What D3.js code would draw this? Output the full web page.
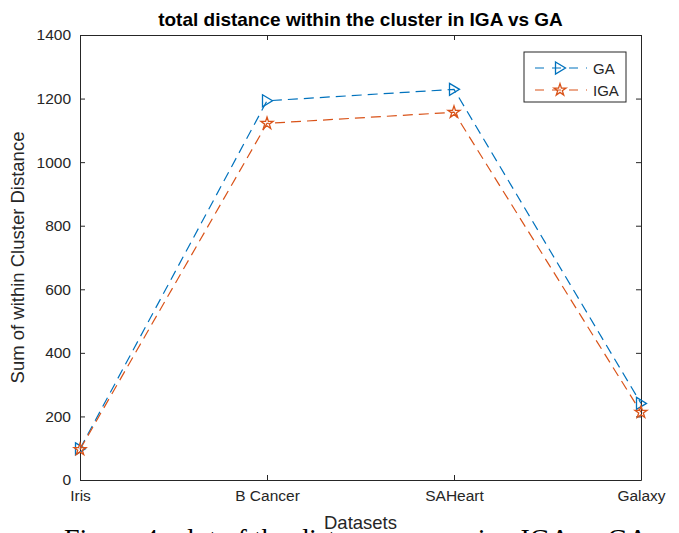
<!DOCTYPE html>
<html>
<head>
<meta charset="utf-8">
<script src="https://cdn.jsdelivr.net/npm/d3@7"></script>
<style>
body { margin: 0; background: #fff; }
svg { display: block; }
</style>
</head>
<body>
<div id="chart"></div>
<script>
const datasets = ["Iris", "B Cancer", "SAHeart", "Galaxy"];
const gaValues = [98, 1193, 1229, 241];
const igaValues = [96, 1122, 1157, 213];
const yTicks = [0, 200, 400, 600, 800, 1000, 1200, 1400];

var w = 679,
    h = 533,
    plotLeft = 80, plotRight = 641,
    plotTop = 35, plotBottom = 480;

var svg = d3.select("#chart").append("svg")
    .attr("width", w)
    .attr("height", h);

var x = d3.scalePoint().domain(datasets).range([plotLeft, plotRight]).padding(0);
var y = d3.scaleLinear().domain([0, 1400]).range([plotBottom, plotTop]);

var font = "Liberation Sans, Arial, sans-serif";
var axisColor = "#262626";

// figure caption, cut off by the page edge
svg.append("text").attr("x", 64).attr("y", 548)
    .attr("fill", "#000")
    .style("font-family", "Liberation Serif, Times New Roman, serif").style("font-size", "28px")
    .text("Figure 4: plot of the distance comparing IGA vs GA");

// axes with inward ticks (MATLAB box style)
function styleAxis(g) {
    g.select(".domain").attr("stroke", axisColor).attr("stroke-width", 1);
    g.selectAll(".tick line").attr("stroke", axisColor);
    g.selectAll(".tick text").attr("fill", axisColor).style("font-family", font).style("font-size", "15.5px");
}

svg.append("g").attr("transform", "translate(0," + plotBottom + ")")
    .call(d3.axisBottom(x).tickSizeInner(-5).tickSizeOuter(0).tickPadding(10))
    .call(styleAxis);
svg.append("g").attr("transform", "translate(0," + plotTop + ")")
    .call(d3.axisTop(x).tickSizeInner(-5).tickSizeOuter(0).tickFormat(""))
    .call(styleAxis);
svg.append("g").attr("transform", "translate(" + plotLeft + ",0)")
    .call(d3.axisLeft(y).tickValues(yTicks).tickFormat(d3.format("d")).tickSizeInner(-5).tickSizeOuter(0).tickPadding(9))
    .call(styleAxis);
svg.append("g").attr("transform", "translate(" + plotRight + ",0)")
    .call(d3.axisRight(y).tickValues(yTicks).tickSizeInner(-5).tickSizeOuter(0).tickFormat(""))
    .call(styleAxis);

var series = [
    {name: "GA", values: gaValues, color: "#0072BD", marker: "tri"},
    {name: "IGA", values: igaValues, color: "#D95319", marker: "star"}
];

var line = d3.line().x((d, i) => x(datasets[i])).y(d => y(d));

var triPath = "M-4.5,-6L5.5,0L-4.5,6Z";
var starPath = d3.symbol().type(d3.symbolStar).size(45)();

function marker(g, s) {
    g.append("path")
        .attr("d", s.marker === "tri" ? triPath : starPath)
        .attr("fill", "none")
        .attr("stroke", s.color)
        .attr("stroke-width", 1.3);
}

series.forEach(s => {
    svg.append("path")
        .datum(s.values)
        .attr("d", line)
        .attr("fill", "none")
        .attr("stroke", s.color)
        .attr("stroke-width", 1.2)
        .attr("stroke-dasharray", "10,6");
    svg.selectAll(null)
        .data(s.values)
        .enter().append("g")
        .attr("transform", (d, i) => "translate(" + x(datasets[i]) + "," + y(d) + ")")
        .each(function() { marker(d3.select(this), s); });
});

// legend
var lg = svg.append("g").attr("transform", "translate(524,52)");
lg.append("rect").attr("width", 102).attr("height", 50)
    .attr("fill", "#fff").attr("stroke", axisColor).attr("stroke-width", 1);
series.forEach((s, i) => {
    var ly = 16 + i * 22;
    lg.append("line").attr("x1", 11).attr("x2", 63).attr("y1", ly).attr("y2", ly)
        .attr("stroke", s.color).attr("stroke-width", 1.2).attr("stroke-dasharray", "9,8");
    marker(lg.append("g").attr("transform", "translate(36," + ly + ")"), s);
    lg.append("text").attr("x", 69).attr("y", ly + 5.5)
        .attr("fill", axisColor).style("font-family", font).style("font-size", "15px")
        .text(s.name);
});

// title and labels
svg.append("text").attr("x", (plotLeft + plotRight) / 2).attr("y", 26)
    .attr("text-anchor", "middle").attr("fill", "#000")
    .style("font-family", font).style("font-size", "19px").style("font-weight", "bold")
    .text("total distance within the cluster in IGA vs GA");

svg.append("text").attr("x", (plotLeft + plotRight) / 2).attr("y", 529)
    .attr("text-anchor", "middle").attr("fill", axisColor)
    .style("font-family", font).style("font-size", "18.5px")
    .text("Datasets");

svg.append("text")
    .attr("transform", "translate(24," + (plotTop + plotBottom) / 2 + ") rotate(-90)")
    .attr("text-anchor", "middle").attr("fill", axisColor)
    .style("font-family", font).style("font-size", "18.5px")
    .text("Sum of within Cluster Distance");
</script>
</body>
</html>
